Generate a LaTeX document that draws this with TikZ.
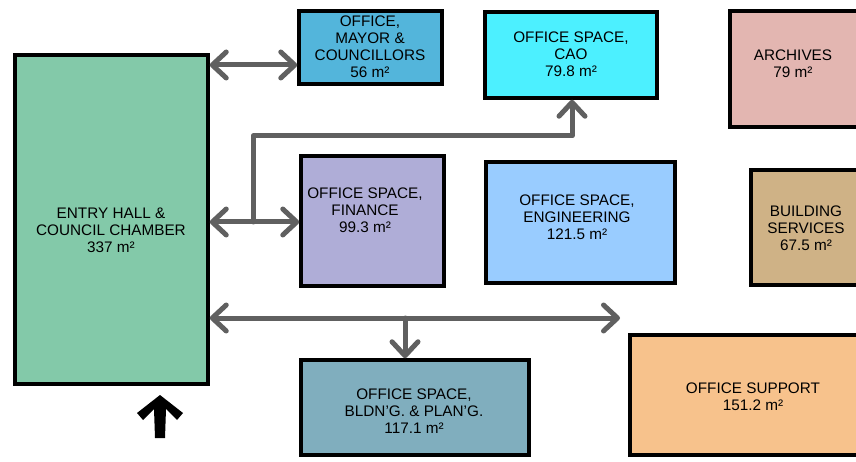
\documentclass[tikz,border=0pt]{standalone}
\usepackage{fontspec}
\setmainfont{Liberation Sans}
\usetikzlibrary{arrows.meta}
\definecolor{cEntry}{RGB}{131,201,169}
\definecolor{cMayor}{RGB}{83,181,219}
\definecolor{cCAO}{RGB}{76,240,255}
\definecolor{cArch}{RGB}{227,182,177}
\definecolor{cFin}{RGB}{175,173,215}
\definecolor{cEng}{RGB}{153,204,255}
\definecolor{cBldgSvc}{RGB}{207,178,134}
\definecolor{cPlan}{RGB}{128,174,190}
\definecolor{cSupp}{RGB}{247,194,140}
\definecolor{cConn}{RGB}{96,96,96}
\tikzset{
  room/.style={draw=black, line width=3.5pt, rectangle, inner sep=0pt},
  roomtext/.style={align=center, font=\fontsize{15.3}{17}\selectfont, inner sep=0pt},
  conn/.style={draw=cConn, line width=5pt, line cap=round, line join=round},
  tipL/.style={-{Straight Barb[length=14pt,width=26pt,round]}},
  tipLR/.style={{Straight Barb[length=14pt,width=26pt,round]}-{Straight Barb[length=14pt,width=26pt,round]}}
}
\begin{document}
\begin{tikzpicture}[x=1pt,y=-1pt]
\useasboundingbox (0,0) rectangle (856,462);
\clip (0,0) rectangle (856,462);
\fill[white] (0,0) rectangle (856,462);
% rooms
\node[room, fill=cEntry, minimum width=193pt, minimum height=329pt] (entry) at (111.5,219.5) {};
\node[room, fill=cMayor, minimum width=143pt, minimum height=73pt] (mayor) at (370.5,47.5) {};
\node[room, fill=cCAO, minimum width=172pt, minimum height=86pt] (cao) at (571,55) {};
\node[room, fill=cArch, minimum width=140pt, minimum height=116pt] (arch) at (800,69) {};
\node[room, fill=cFin, minimum width=143pt, minimum height=130pt] (fin) at (372.5,221) {};
\node[room, fill=cEng, minimum width=189pt, minimum height=121pt] (eng) at (580.5,222.5) {};
\node[room, fill=cBldgSvc, minimum width=119pt, minimum height=115pt] (bsvc) at (810.5,227.5) {};
\node[room, fill=cPlan, minimum width=228pt, minimum height=95pt] (plan) at (415,407.5) {};
\node[room, fill=cSupp, minimum width=240pt, minimum height=120pt] (supp) at (750,395) {};
% texts
\node[roomtext] (entryT) at (111,230) {ENTRY HALL \&\\COUNCIL CHAMBER\\337 m²};
\node[roomtext] (mayorT) at (370,47) {OFFICE,\\MAYOR \&\\COUNCILLORS\\56 m²};
\node[roomtext] (caoT) at (571,54) {OFFICE SPACE,\\CAO\\79.8 m²};
\node[roomtext] (archT) at (793,63.5) {ARCHIVES\\79 m²};
\node[roomtext] (finT) at (365,210) {OFFICE SPACE,\\FINANCE\\99.3 m²};
\node[roomtext] (engT) at (577,217) {OFFICE SPACE,\\ENGINEERING\\121.5 m²};
\node[roomtext] (bsvcT) at (806,228) {BUILDING\\SERVICES\\67.5 m²};
\node[roomtext] (planT) at (414,411) {OFFICE SPACE,\\BLDN'G. \& PLAN'G.\\117.1 m²};
\node[roomtext] (suppT) at (753,397) {OFFICE SUPPORT\\151.2 m²};
% connector points
\coordinate (j1) at (253,222);
\coordinate (j2) at (253,136);
\coordinate (j3) at (572,136);
\coordinate (j4) at (405,318);
\coordinate (e3) at (620,318);
% connectors
\draw[conn, tipLR] (entry.east |- 0,65) -- (mayor.west |- 0,65);
\draw[conn, tipLR] (entry.east |- j1) -- (fin.west |- j1);
\draw[conn, tipL] (j1) -- (j2) -- (j3) -- (cao.south -| j3);
\draw[conn, tipLR] (entry.east |- e3) -- (e3);
\draw[conn, tipL] (j4) -- (plan.north -| j4);
% entrance arrow
\fill[black] (160,395) -- (183,413) -- (177,420) -- (166,409) -- (165,438) -- (155,438) -- (154,409) -- (143,420) -- (137,413) -- cycle;
\end{tikzpicture}
\end{document}
